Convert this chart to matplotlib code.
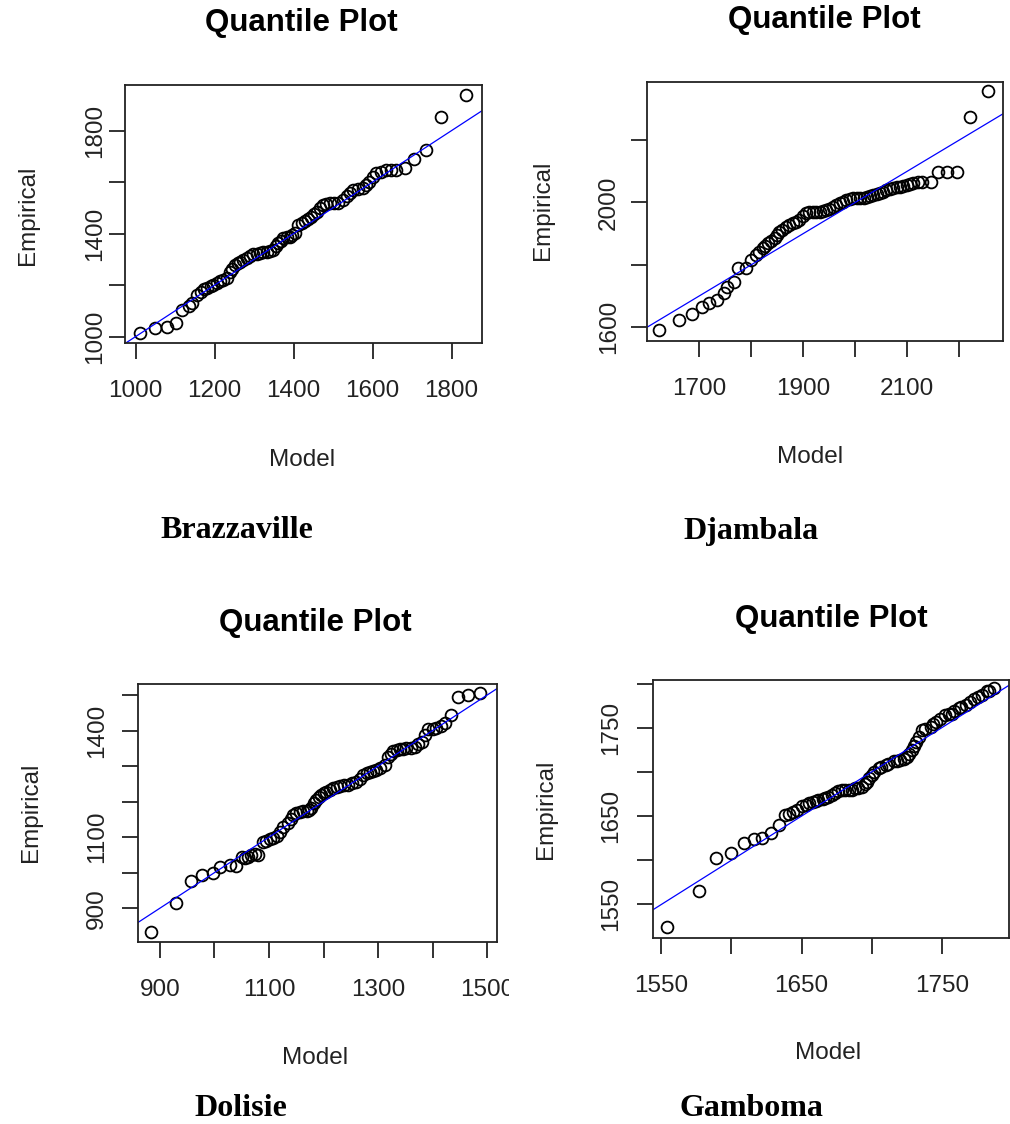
import matplotlib.pyplot as plt
from matplotlib.patches import Rectangle

# ─── DATA ─────────────────────────────────────────────────────────────────────
BRAZZAVILLE_MODEL = [1010, 1050, 1080, 1102, 1118, 1135, 1143, 1155, 1165, 1172, 1180, 1190,
                     1197, 1205, 1214, 1222, 1231, 1239, 1245, 1252, 1258, 1265, 1272, 1282,
                     1290, 1298, 1306, 1315, 1323, 1332, 1340, 1349, 1355, 1361, 1368, 1374,
                     1382, 1391, 1397, 1403, 1412, 1420, 1429, 1437, 1445, 1452, 1458, 1466,
                     1475, 1483, 1492, 1502, 1513, 1524, 1534, 1542, 1550, 1563, 1576, 1584,
                     1592, 1600, 1609, 1622, 1634, 1647, 1660, 1681, 1706, 1735, 1773, 1836]
BRAZZAVILLE_EMP = [1013, 1032, 1036, 1052, 1104, 1120, 1132, 1160, 1175, 1184, 1190, 1196,
                   1200, 1207, 1214, 1220, 1227, 1252, 1262, 1278, 1285, 1291, 1296, 1304,
                   1312, 1321, 1322, 1324, 1327, 1330, 1333, 1337, 1350, 1362, 1372, 1382,
                   1385, 1388, 1395, 1401, 1434, 1440, 1447, 1456, 1466, 1475, 1485, 1498,
                   1511, 1516, 1518, 1518, 1518, 1530, 1544, 1557, 1570, 1573, 1576, 1590,
                   1602, 1620, 1634, 1640, 1647, 1646, 1645, 1654, 1690, 1725, 1854, 1939]

DJAMBALA_MODEL = [1623, 1661, 1686, 1705, 1719, 1735, 1748, 1754, 1768, 1774, 1790, 1800,
                  1809, 1815, 1822, 1827, 1832, 1838, 1845, 1850, 1854, 1860, 1867, 1873,
                  1880, 1887, 1893, 1900, 1906, 1912, 1919, 1925, 1932, 1938, 1944, 1950,
                  1957, 1963, 1970, 1977, 1983, 1990, 1996, 2003, 2009, 2016, 2022, 2028,
                  2034, 2041, 2047, 2054, 2060, 2066, 2073, 2080, 2086, 2092, 2099, 2106,
                  2112, 2120, 2128, 2145, 2160, 2176, 2196, 2221, 2256]
DJAMBALA_EMP = [1591, 1623, 1643, 1666, 1677, 1688, 1709, 1730, 1746, 1789, 1789, 1816,
                1832, 1840, 1853, 1860, 1869, 1876, 1885, 1895, 1906, 1912, 1922, 1928,
                1933, 1938, 1944, 1955, 1965, 1968, 1970, 1970, 1970, 1973, 1976, 1980,
                1986, 1991, 1997, 2003, 2008, 2011, 2013, 2013, 2013, 2015, 2018, 2021,
                2024, 2026, 2029, 2035, 2040, 2042, 2045, 2048, 2050, 2053, 2056, 2058,
                2061, 2064, 2067, 2067, 2099, 2099, 2099, 2273, 2357]

DOLISIE_MODEL = [883, 929, 957, 978, 998, 1011, 1028, 1039, 1050, 1056, 1062, 1068, 1074,
                 1080, 1089, 1095, 1102, 1108, 1114, 1120, 1126, 1135, 1140, 1144, 1150,
                 1157, 1163, 1169, 1173, 1178, 1183, 1187, 1192, 1196, 1200, 1205, 1211,
                 1218, 1224, 1230, 1238, 1245, 1252, 1260, 1266, 1273, 1279, 1285, 1291,
                 1297, 1304, 1312, 1319, 1324, 1328, 1334, 1340, 1346, 1352, 1360, 1367,
                 1374, 1380, 1386, 1392, 1400, 1407, 1415, 1422, 1433, 1447, 1465, 1487]
DOLISIE_EMP = [834, 914, 977, 994, 998, 1017, 1022, 1020, 1045, 1040, 1045, 1050, 1053,
               1050, 1087, 1090, 1094, 1097, 1102, 1115, 1130, 1139, 1150, 1162, 1167,
               1172, 1173, 1174, 1177, 1181, 1195, 1205, 1212, 1219, 1224, 1228, 1232,
               1237, 1241, 1244, 1246, 1247, 1252, 1256, 1265, 1275, 1280, 1284, 1287,
               1289, 1295, 1303, 1325, 1335, 1343, 1346, 1347, 1349, 1350, 1352, 1355,
               1362, 1369, 1388, 1403, 1405, 1406, 1412, 1420, 1444, 1495, 1500, 1505]

GAMBOMA_MODEL = [1554, 1577, 1589, 1600, 1609, 1616, 1622, 1628, 1634, 1638, 1641, 1644,
                 1647, 1650, 1653, 1655, 1658, 1660, 1662, 1665, 1667, 1669, 1672, 1674,
                 1676, 1679, 1681, 1684, 1686, 1688, 1690, 1693, 1695, 1697, 1698, 1700,
                 1702, 1705, 1707, 1710, 1712, 1716, 1718, 1720, 1723, 1725, 1727, 1729,
                 1730, 1732, 1734, 1736, 1738, 1742, 1744, 1746, 1749, 1752, 1755, 1757,
                 1759, 1762, 1764, 1767, 1770, 1773, 1776, 1779, 1782, 1784, 1787]
GAMBOMA_EMP = [1524, 1565, 1603, 1608, 1619, 1624, 1625, 1631, 1640, 1651, 1652, 1655,
               1657, 1661, 1662, 1665, 1666, 1667, 1668, 1669, 1671, 1672, 1674, 1676,
               1678, 1680, 1679, 1680, 1680, 1682, 1682, 1683, 1686, 1689, 1693, 1697,
               1700, 1704, 1706, 1708, 1709, 1712, 1712, 1714, 1715, 1717, 1720, 1725,
               1729, 1734, 1740, 1747, 1749, 1751, 1754, 1757, 1760, 1764, 1765, 1766,
               1769, 1772, 1773, 1776, 1779, 1783, 1785, 1787, 1791, 1792, 1795]

# reference line drawn by abline(a, b)
REF_INTERCEPT = 0.0
REF_SLOPE = 1.0

CITIES = ["Brazzaville", "Djambala", "Dolisie", "Gamboma"]

BRAZZAVILLE_XTICKS = [1000, 1200, 1400, 1600, 1800]
BRAZZAVILLE_XLABELS = ["1000", "1200", "1400", "1600", "1800"]
BRAZZAVILLE_YTICKS = [1000, 1200, 1400, 1600, 1800]
BRAZZAVILLE_YLABELS = ["1000", "", "1400", "", "1800"]

DJAMBALA_XTICKS = [1700, 1800, 1900, 2000, 2100, 2200]
DJAMBALA_XLABELS = ["1700", "", "1900", "", "2100", ""]
DJAMBALA_YTICKS = [1600, 1800, 2000, 2200]
DJAMBALA_YLABELS = ["1600", "", "2000", ""]

DOLISIE_XTICKS = [900, 1000, 1100, 1200, 1300, 1400, 1500]
DOLISIE_XLABELS = ["900", "", "1100", "", "1300", "", "1500"]
DOLISIE_YTICKS = [900, 1000, 1100, 1200, 1300, 1400, 1500]
DOLISIE_YLABELS = ["900", "", "1100", "", "", "1400", ""]

GAMBOMA_XTICKS = [1550, 1600, 1650, 1700, 1750]
GAMBOMA_XLABELS = ["1550", "", "1650", "", "1750"]
GAMBOMA_YTICKS = [1550, 1600, 1650, 1700, 1750, 1800]
GAMBOMA_YLABELS = ["1550", "", "1650", "", "1750", ""]
# ──────────────────────────────────────────────────────────────────────────────

W, H = 1010, 1124
plt.rcParams["font.family"] = ["Liberation Sans", "DejaVu Sans"]


def px_box(left, top, right, bottom):
    """Axes rectangle from pixel edges (origin top-left)."""
    return [left / W, 1 - bottom / H, (right - left) / W, (bottom - top) / H]


def fx(x):
    return x / W


def fy(y):
    return 1 - y / H


panels = [
    dict(model=BRAZZAVILLE_MODEL, emp=BRAZZAVILLE_EMP, box=(125, 85, 482, 343),
         xlim=(973, 1877), ylim=(975, 1977),
         xt=BRAZZAVILLE_XTICKS, xl=BRAZZAVILLE_XLABELS,
         yt=BRAZZAVILLE_YTICKS, yl=BRAZZAVILLE_YLABELS, ypad=2,
         title=(301, 23), xlab=(302, 460), ylab=(28, 215), city=(237, 531)),
    dict(model=DJAMBALA_MODEL, emp=DJAMBALA_EMP, box=(647, 82, 1003, 341),
         xlim=(1600, 2284), ylim=(1556, 2386),
         xt=DJAMBALA_XTICKS, xl=DJAMBALA_XLABELS,
         yt=DJAMBALA_YTICKS, yl=DJAMBALA_YLABELS, ypad=8,
         title=(824, 20), xlab=(810, 457), ylab=(543, 210), city=(751, 531)),
    dict(model=DOLISIE_MODEL, emp=DOLISIE_EMP, box=(138, 684, 497, 942),
         xlim=(860, 1518), ylim=(805, 1531),
         xt=DOLISIE_XTICKS, xl=DOLISIE_XLABELS,
         yt=DOLISIE_YTICKS, yl=DOLISIE_YLABELS, ypad=10,
         title=(315, 623), xlab=(315, 1058), ylab=(31, 812), city=(241, 1109)),
    dict(model=GAMBOMA_MODEL, emp=GAMBOMA_EMP, box=(653, 680, 1009, 938),
         xlim=(1544, 1798), ylim=(1512, 1804),
         xt=GAMBOMA_XTICKS, xl=GAMBOMA_XLABELS,
         yt=GAMBOMA_YTICKS, yl=GAMBOMA_YLABELS, ypad=11,
         title=(831, 619), xlab=(828, 1053), ylab=(546, 809), city=(751, 1109)),
]

fig = plt.figure(figsize=(W / 100, H / 100), dpi=100)

for p, city in zip(panels, CITIES):
    ax = fig.add_axes(px_box(*p["box"]))
    ax.plot(p["model"], p["emp"], linestyle="none", marker="o", ms=8.5,
            mfc="none", mec="black", mew=1.3)
    ax.axline((0, REF_INTERCEPT), slope=REF_SLOPE, color="blue", lw=0.9)
    ax.set_xlim(*p["xlim"])
    ax.set_ylim(*p["ylim"])
    ax.set_xticks(p["xt"])
    ax.set_xticklabels(p["xl"])
    ax.set_yticks(p["yt"])
    ax.set_yticklabels(p["yl"], rotation=90, va="center")
    ax.tick_params(axis="both", direction="out", length=11.5, width=1.3,
                   labelsize=17.5, color="#222222", labelcolor="#222222")
    ax.tick_params(axis="x", pad=15)
    ax.tick_params(axis="y", pad=p["ypad"])
    for s in ax.spines.values():
        s.set_linewidth(1.3)
        s.set_color("#222222")

    fig.text(fx(p["title"][0]), fy(p["title"][1]), "Quantile Plot", ha="center",
             va="center", fontsize=22.5, fontweight="bold")
    fig.text(fx(p["xlab"][0]), fy(p["xlab"][1]), "Model", ha="center", va="center",
             fontsize=17.5, color="#222222")
    fig.text(fx(p["ylab"][0]), fy(p["ylab"][1]), "Empirical", ha="center", va="center",
             rotation=90, fontsize=17.5, color="#222222")
    fig.text(fx(p["city"][0]), fy(p["city"][1]), city, ha="center", va="center",
             fontsize=23, fontweight="bold", family=["Liberation Serif", "DejaVu Serif"])

# the Dolisie panel was cropped through its last tick label
fig.add_artist(Rectangle((fx(509), fy(1015)), fx(16), 40 / H, transform=fig.transFigure,
                         facecolor="white", edgecolor="none", zorder=10))

plt.savefig("out.png", dpi=100)
